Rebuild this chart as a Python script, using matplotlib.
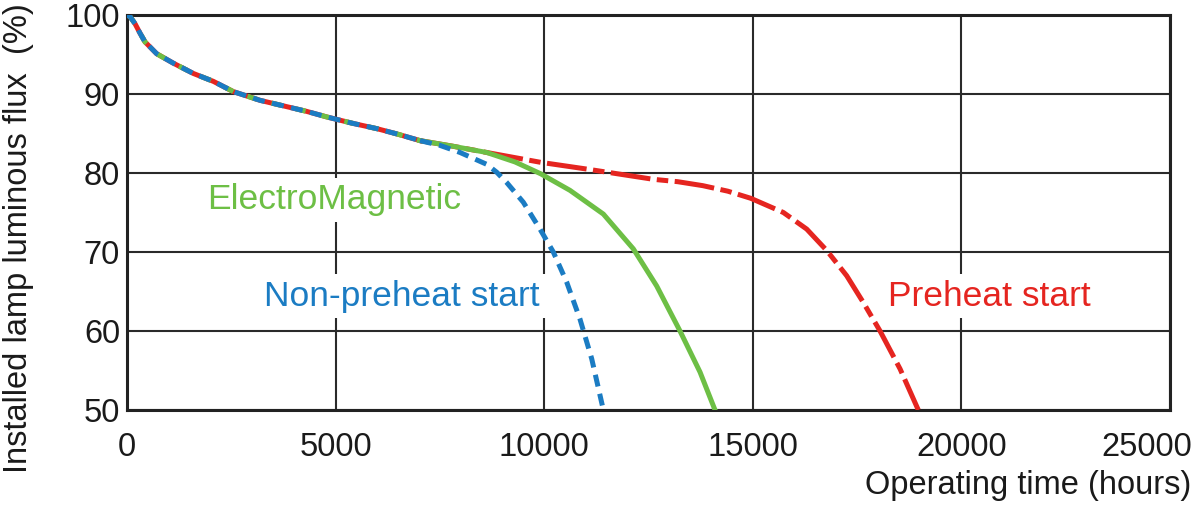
import matplotlib
matplotlib.use("Agg")
import matplotlib.pyplot as plt
import matplotlib.transforms as mtransforms

# Shared early part of the curves
common_x = [0, 72, 192, 312, 431, 711, 1111, 1590, 2070, 2550, 3188, 3827, 4307, 4786,
            5400, 6000, 6500, 7023]
common_y = [100, 99.8, 98.9, 97.7, 96.6, 95.1, 93.9, 92.6, 91.6, 90.3, 89.2, 88.4, 87.8, 87.1,
            86.3, 85.6, 84.9, 84.1]

# Preheat start (red)
pre_x = [7023, 7800, 8621, 9916, 11018, 12616, 13200, 13800, 14400, 14950, 15733, 16292, 16771,
         17250, 17650, 18050, 18530, 18967]
pre_y = [84.1, 83.4, 82.6, 81.35, 80.5, 79.2, 78.9, 78.4, 77.7, 76.8, 75.0, 72.9, 70.2,
         67.0, 63.6, 60.0, 55.2, 50.0]

# ElectroMagnetic (green)
em_x = [7023, 7800, 8621, 9300, 9916, 10619, 11418, 12136, 12696, 13255, 13735, 14094]
em_y = [84.1, 83.4, 82.6, 81.4, 79.9, 77.8, 74.8, 70.4, 65.7, 60.0, 54.8, 50.0]

# Non-preheat start (blue)
np_x = [7023, 7500, 7982, 8621, 8861, 9100, 9499, 9899, 10218, 10538, 10858, 11138, 11418]
np_y = [84.1, 83.5, 82.6, 81.1, 80.1, 78.8, 76.3, 72.9, 70.0, 66.2, 61.5, 56.5, 50.0]

x_ticks = [0, 5000, 10000, 15000, 20000, 25000]
y_ticks = [50, 60, 70, 80, 90, 100]

RED = "#e52520"
GREEN = "#6dbf45"
BLUE = "#1b7cc3"
INK = "#1a1a1a"

plt.rcParams['font.family'] = ['Liberation Sans', 'DejaVu Sans']

fig = plt.figure(figsize=(12, 5.11), dpi=100)
ax = fig.add_axes([127/1200, 1-410/511, (1170-127)/1200, (410-15)/511])

ax.set_xlim(0, 25000)
ax.set_ylim(50, 100)
ax.set_xticks(x_ticks)
ax.set_yticks(y_ticks)
ax.grid(True, color="#2a2a2a", linewidth=1.5)
ax.set_axisbelow(True)
for s in ax.spines.values():
    s.set_linewidth(2.2)
    s.set_color("#222222")
ax.tick_params(length=0, labelsize=23.5, colors=INK)
ax.tick_params(axis='x', pad=16)
ax.tick_params(axis='y', pad=5)

# Shift the last x tick label left so it fits inside the figure, as in the reference
last = ax.xaxis.get_major_ticks()[-1].label1
last.set_transform(last.get_transform() + mtransforms.ScaledTranslation(-23/100, 0, fig.dpi_scale_trans))

lw = 3.6
kw = dict(solid_joinstyle='round', dash_joinstyle='round')
ax.plot(pre_x, pre_y, color=RED, lw=lw, dashes=(8, 1.3, 2.3, 1.3), zorder=3, **kw)
ax.plot(common_x, common_y, color=RED, lw=lw, zorder=3, **kw)
ax.plot(em_x, em_y, color=GREEN, lw=lw, zorder=4, **kw)
ax.plot(common_x, common_y, color=GREEN, lw=lw, dashes=(2, 3), zorder=4, **kw)
ax.plot(np_x, np_y, color=BLUE, lw=lw, dashes=(2.4, 1.5), zorder=5, **kw)
ax.plot(common_x, common_y, color=BLUE, lw=lw, dashes=(2.4, 1.5), zorder=5, **kw)

bb = dict(facecolor="white", edgecolor="none", pad=4)
ax.text(1920, 76.6, "ElectroMagnetic", color=GREEN, fontsize=25.5, ha="left", va="center", bbox=bb, zorder=2)
ax.text(9900, 64.4, "Non-preheat start", color=BLUE, fontsize=25.5, ha="right", va="center", bbox=bb, zorder=2)
ax.text(18240, 64.4, "Preheat start", color=RED, fontsize=25.5, ha="left", va="center", bbox=bb, zorder=2)

fig.text(1191/1200, 1-485/511, "Operating time (hours)", fontsize=23.5, ha="right", va="center", color=INK)
fig.text(19/1200, 1-238/511, "Installed lamp luminous flux  (%)", fontsize=23.5, rotation=90,
         ha="center", va="center", color=INK)

fig.savefig("out.png", dpi=100)
